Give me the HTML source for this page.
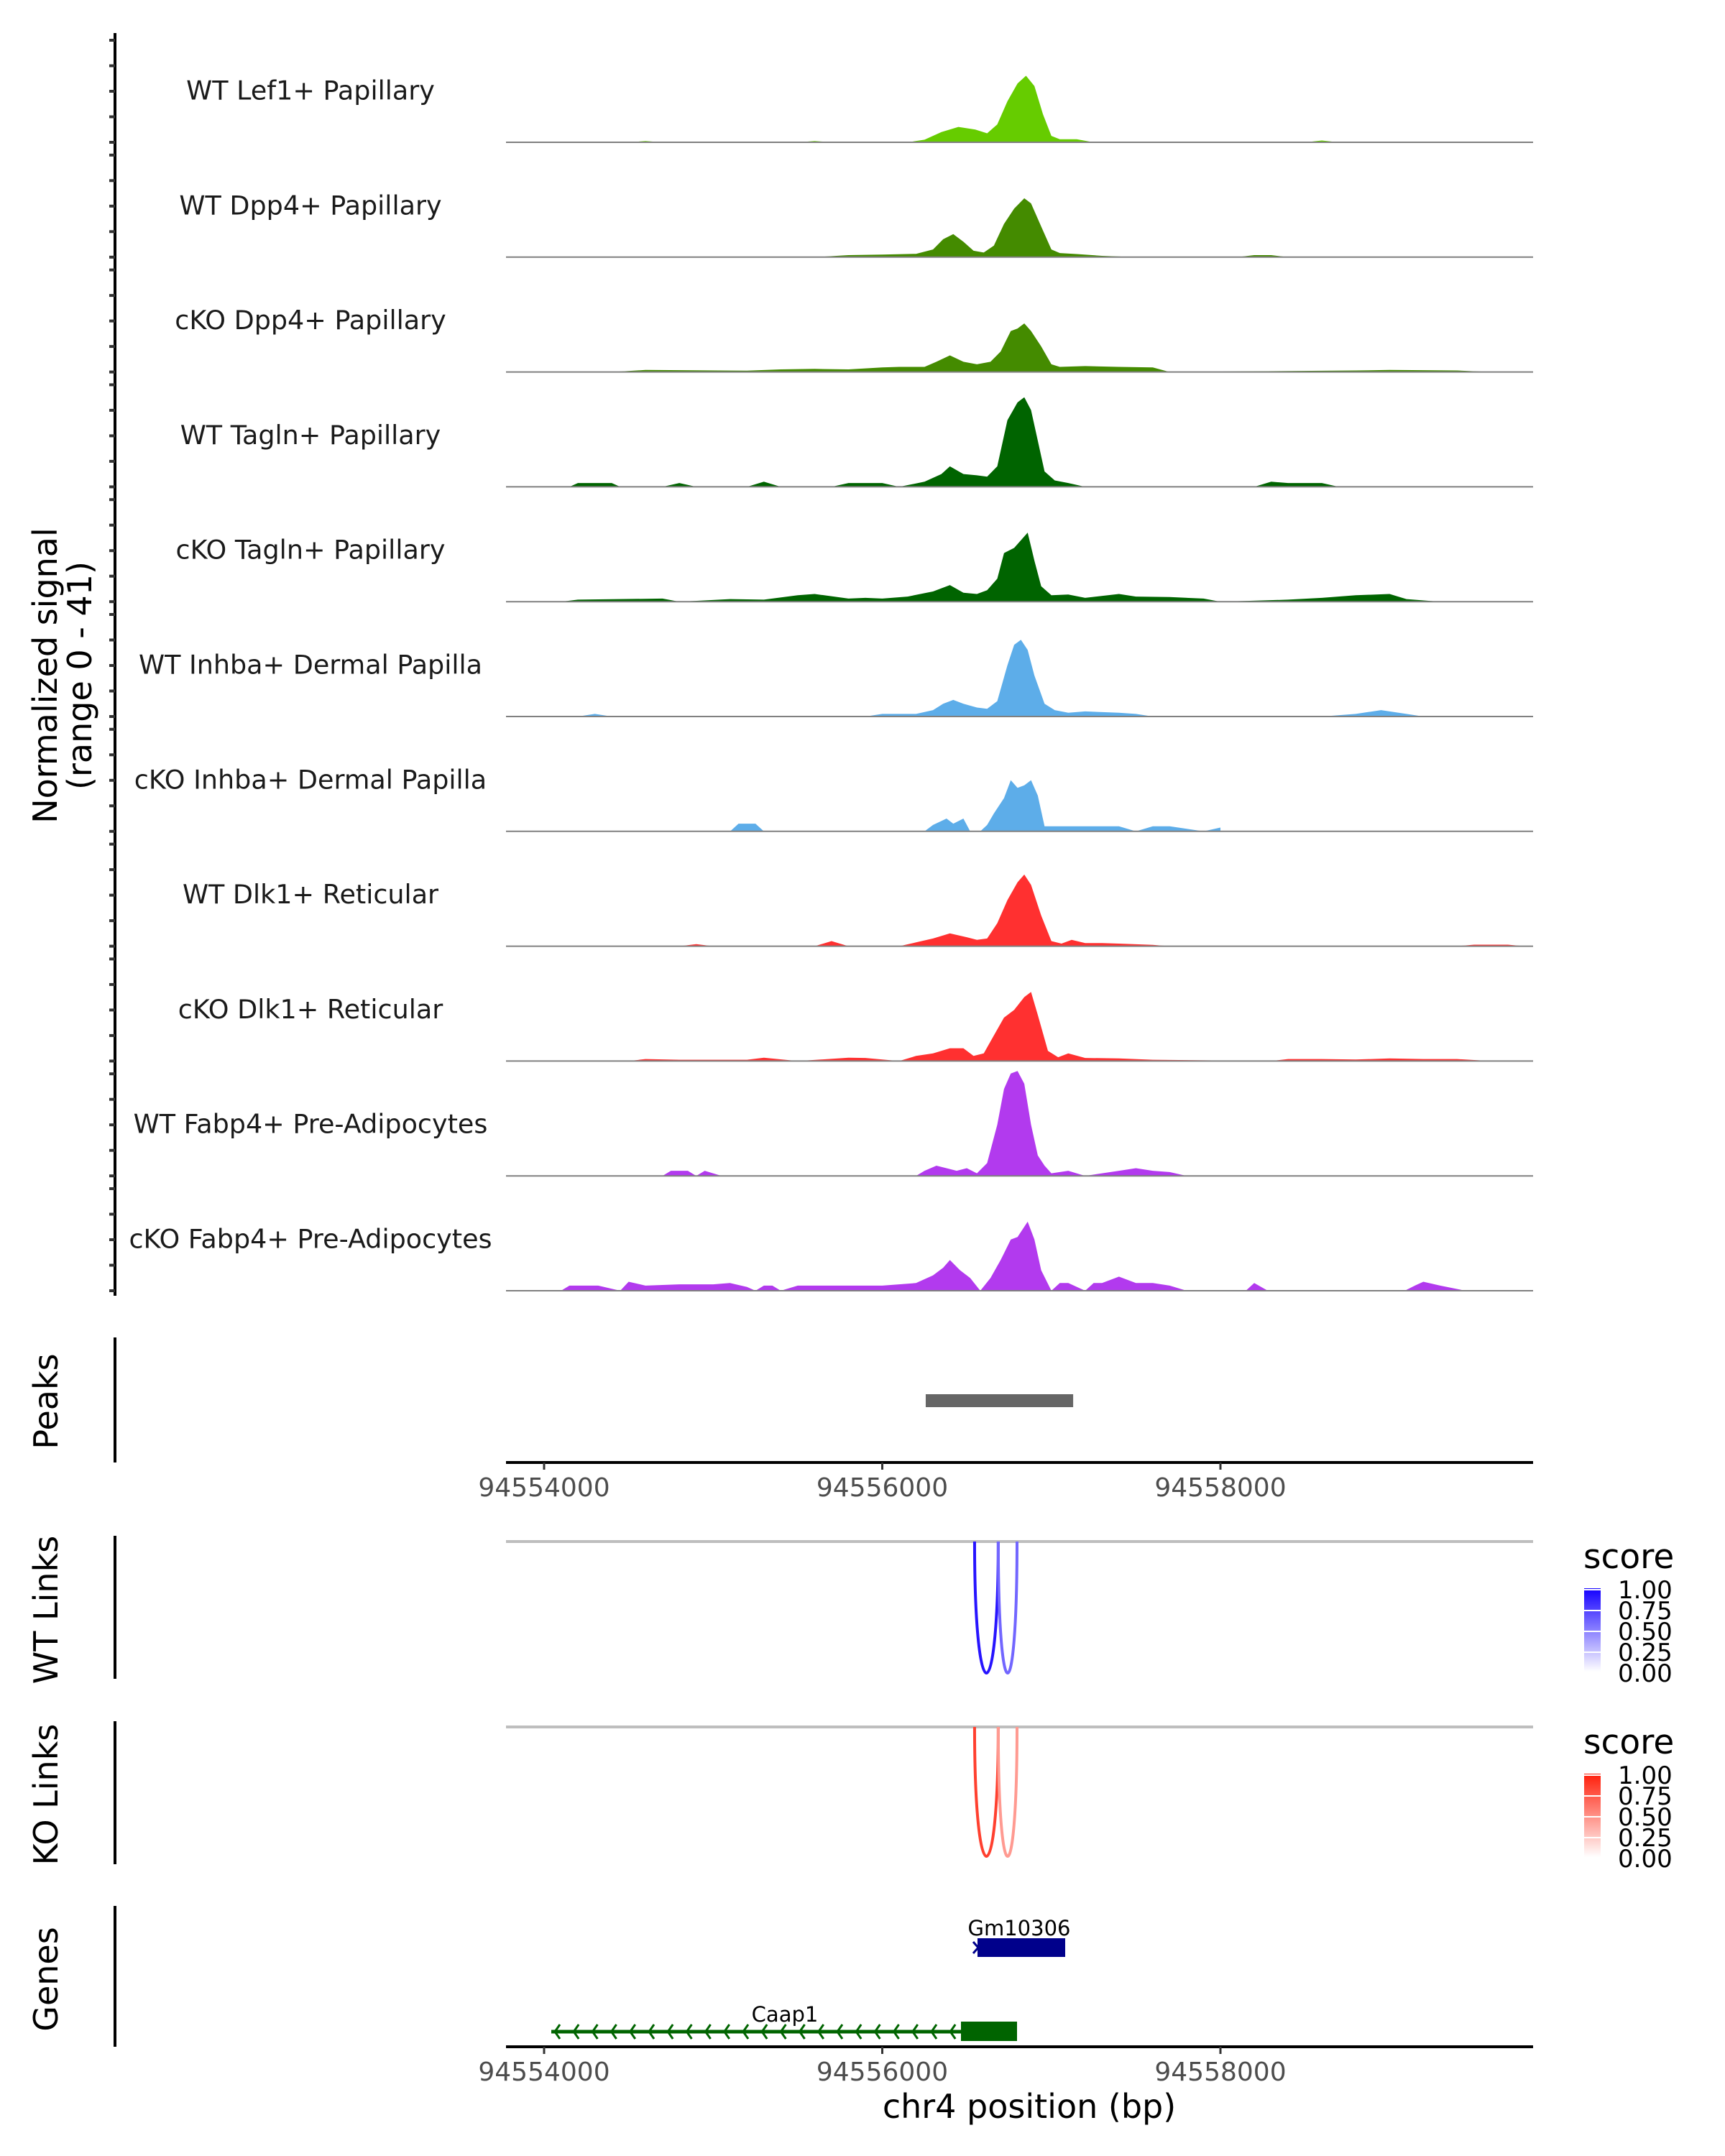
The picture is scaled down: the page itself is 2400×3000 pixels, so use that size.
<!DOCTYPE html>
<html><head><meta charset="utf-8">
<style>
html,body{margin:0;padding:0;background:#fff;}
svg{display:block;font-family:"DejaVu Sans","Liberation Sans",sans-serif;}
</style></head>
<body>
<svg id="chart" width="2400" height="3000" viewBox="0 0 2400 3000" xmlns="http://www.w3.org/2000/svg">
<g id="tracks"></g>
<g id="axes"></g>
</svg>
<script>
// ---- data (kb offset from 94554000) ----
const trackNames = ["WT Lef1+ Papillary","WT Dpp4+ Papillary","cKO Dpp4+ Papillary","WT Tagln+ Papillary","cKO Tagln+ Papillary","WT Inhba+ Dermal Papilla","cKO Inhba+ Dermal Papilla","WT Dlk1+ Reticular","cKO Dlk1+ Reticular","WT Fabp4+ Pre-Adipocytes","cKO Fabp4+ Pre-Adipocytes"];
const trackColors = ["#66cc00","#448b00","#448b00","#006400","#006400","#5dade9","#5dade9","#ff3030","#ff3030","#b23aee","#b23aee"];

const pos0 = [0.5,0.6,0.7,1.5,1.6,1.7,2.15,2.25,2.35,2.45,2.55,2.62,2.68,2.74,2.8,2.85,2.9,2.95,3.0,3.05,3.15,3.25,4.5,4.6,4.7];
const val0 = [0,0.5,0,0,0.5,0,0,1,4,6,5,3.5,7,16,23,26,22,11,2.5,1.2,1.2,0,0,0.7,0];
const pos1 = [1.6,1.8,2.0,2.2,2.3,2.36,2.42,2.48,2.54,2.6,2.66,2.72,2.78,2.84,2.88,2.94,3.0,3.05,3.15,3.3,3.5,4.1,4.2,4.3,4.4];
const val1 = [0,0.8,1,1.3,3,7,9,6,2.5,1.8,4.5,13,19,23,21,12,3,1.6,1.2,0.5,0,0,0.8,0.8,0];
const pos2 = [0.4,0.6,1.2,1.4,1.6,1.8,2.0,2.1,2.25,2.32,2.4,2.48,2.56,2.64,2.7,2.76,2.8,2.84,2.88,2.94,3.0,3.05,3.2,3.4,3.6,3.7,4.8,5.0,5.4,5.6];
const val2 = [0,0.8,0.5,1,1.2,1,1.8,2,2,4,6.5,4,3,4,8,16,17,19,16,10,3,2,2.3,2,1.8,0,0.6,0.8,0.6,0];
const pos3 = [0.15,0.2,0.3,0.4,0.45,0.7,0.8,0.9,1.2,1.3,1.4,1.7,1.8,2.0,2.1,2.25,2.35,2.4,2.48,2.56,2.62,2.68,2.74,2.8,2.84,2.88,2.92,2.96,3.02,3.1,3.2,4.2,4.3,4.4,4.6,4.7];
const val3 = [0,1.5,1.5,1.5,0,0,1.5,0,0,2,0,0,1.5,1.5,0,2,5,8,5,4.5,4,8,26,33,35,30,18,6,2.5,1.5,0,0,2,1.5,1.5,0];
const pos4 = [0.1,0.2,0.7,0.8,1.1,1.3,1.5,1.6,1.8,1.9,2.0,2.15,2.3,2.4,2.48,2.56,2.62,2.68,2.72,2.78,2.82,2.86,2.9,2.94,3.0,3.1,3.2,3.4,3.5,3.7,3.9,4.0,4.4,4.6,4.8,5.0,5.1,5.3];
const val4 = [0,0.8,1.2,0,1,0.8,2.5,3,1.2,1.5,1.2,2,4,6.5,3.5,3,4.5,9,19,21,24,27,16,6,2.5,2.8,1.5,3,2,1.8,1.2,0,0.8,1.5,2.5,3,1,0];
const pos5 = [0.2,0.3,0.4,1.9,2.0,2.1,2.2,2.3,2.36,2.42,2.48,2.56,2.62,2.68,2.74,2.78,2.82,2.86,2.9,2.96,3.02,3.1,3.2,3.4,3.5,3.6,4.6,4.8,4.95,5.1,5.2];
const val5 = [0,1,0,0,1,1,1,2.5,5,6.5,5,3.5,3,6,20,28,30,26,16,5,2.5,1.5,2,1.5,1,0,0,1,2.5,1,0];
const pos6 = [1.1,1.15,1.25,1.3,2.25,2.3,2.38,2.42,2.48,2.52,2.58,2.62,2.66,2.72,2.76,2.8,2.84,2.88,2.92,2.96,3.0,3.4,3.5,3.6,3.7,3.9,4.0];
const val6 = [0,3,3,0,0,2.5,5,3,5,0,0,2.5,7,13,20,17,18,20,14,2,2,2,0,2,2,0,1.5];
const pos7 = [0.8,0.9,1.0,1.6,1.7,1.8,2.1,2.2,2.3,2.4,2.5,2.56,2.62,2.68,2.74,2.8,2.84,2.88,2.94,3.0,3.06,3.12,3.2,3.3,3.4,3.6,3.7,5.4,5.5,5.7,5.8,6.0];
const val7 = [0,0.8,0,0,2,0,0,1.5,3,5,3.5,2.5,3,9,18,25,28,24,12,2,1,2.5,1.2,1.2,1,0.5,0,0,0.6,0.6,0,0];
const pos8 = [0.5,0.6,0.8,1.2,1.3,1.5,1.8,1.9,2.1,2.2,2.3,2.4,2.48,2.54,2.6,2.66,2.72,2.78,2.84,2.88,2.92,2.98,3.04,3.1,3.2,3.4,3.6,4.3,4.4,4.6,4.8,5.0,5.2,5.4,5.6];
const val8 = [0,0.8,0.5,0.5,1.3,0,1.3,1.2,0,2,3,5,5,2,3,10,17,20,25,27,18,4,1.5,3,1.2,1,0.5,0,0.8,0.8,0.6,1,0.8,0.8,0];
const pos9 = [0.7,0.75,0.85,0.9,0.95,1.05,2.2,2.25,2.32,2.38,2.44,2.5,2.56,2.62,2.68,2.72,2.76,2.8,2.84,2.88,2.92,2.96,3.0,3.1,3.2,3.4,3.5,3.6,3.7,3.8];
const val9 = [0,2,2,0,2,0,0,2,4,3,2,3,1,5,20,34,40,41,36,20,8,4,1,2,0,2,3,2,1.5,0];
const pos10 = [0.1,0.15,0.32,0.45,0.5,0.6,0.8,1.0,1.1,1.2,1.25,1.3,1.35,1.4,1.5,2.0,2.2,2.3,2.36,2.4,2.46,2.52,2.58,2.64,2.7,2.76,2.8,2.86,2.9,2.94,3.0,3.05,3.1,3.2,3.25,3.3,3.4,3.5,3.6,3.7,3.8,4.15,4.2,4.28,5.09,5.15,5.2,5.3,5.45];
const val10 = [0,2,2,0,3.5,2,2.5,2.5,3,1.5,0,2,2,0,2,2,3,6,9,12,8,5,0,5,12,20,21,27,20,8,0,3,3,0,3,3,5.5,3,3,2,0,0,3,0,0,2,3.5,2,0];

const trackPos = [pos0,pos1,pos2,pos3,pos4,pos5,pos6,pos7,pos8,pos9,pos10];
const trackVal = [val0,val1,val2,val3,val4,val5,val6,val7,val8,val9,val10];
const axisTicksBp = [94554000,94556000,94558000];
const peakStarts = [94556257];
const peakEnds = [94557129];
const wtLinkStarts = [94556546,94556686];
const wtLinkEnds = [94556686,94556797];
const wtLinkScores = [0.92,0.6];
const koLinkStarts = [94556546,94556686];
const koLinkEnds = [94556686,94556797];
const koLinkScores = [0.85,0.45];
const legendTicks = ["1.00","0.75","0.50","0.25","0.00"];

// ---- scales ----
const X0 = 757, PX_PER_BP = 470.5/2000, BP0 = 94554000;
const xBp = bp => X0 + (bp - BP0) * PX_PER_BP;
const xKb = kb => X0 + kb * 1000 * PX_PER_BP;
const PLOT_L = 704, PLOT_R = 2133;
const BASE0 = 198, SPACING = 159.8, PX_PER_UNIT = 3.56;
const yVal = (i, v) => BASE0 + SPACING * i - v * PX_PER_UNIT;

const NS = "http://www.w3.org/2000/svg";
function mk(tag, attrs, parent, text) {
  const e = document.createElementNS(NS, tag);
  for (const k in attrs) e.setAttribute(k, attrs[k]);
  if (text !== undefined) e.textContent = text;
  parent.appendChild(e);
  return e;
}
const tracks = document.getElementById("tracks");
const axes = document.getElementById("axes");

// ---- coverage tracks ----
trackNames.forEach((name, i) => {
  const g = mk("g", {}, tracks);
  
  
  const base = yVal(i, 0);
  const P = trackPos[i], V = trackVal[i];
  let d = "M" + xKb(P[0]).toFixed(1) + "," + base;
  for (let k = 0; k < P.length; k++) d += " L" + xKb(P[k]).toFixed(1) + "," + yVal(i, V[k]).toFixed(1);
  d += " L" + xKb(P[P.length - 1]).toFixed(1) + "," + base + " Z";
  const area = mk("path", {d: d, fill: trackColors[i], stroke: "none"}, g);
  
  
  const bl = mk("line", {x1: PLOT_L, x2: PLOT_R, y1: base, y2: base, stroke: "#808080", "stroke-width": 2}, g);
  
  
  const lab = mk("text", {x: 432, y: base - 70, "text-anchor": "middle", "dominant-baseline": "middle", "font-size": 36.5, fill: "#1a1a1a"}, g, name);
  
  
});

// ---- left signal axis ----
const yaxis = mk("line", {x1: 160, x2: 160, y1: 46, y2: 1803, stroke: "#000", "stroke-width": 4}, axes);


for (let i = 0; i < 11; i++) for (let k = 0; k < 5; k++) {
  const y = 56 + SPACING * i + 35.5 * k;
  if (y > 1803) continue;
  const t = mk("line", {x1: 152, x2: 160, y1: y, y2: y, stroke: "#333", "stroke-width": 4}, axes);
  
  
}
const yt = mk("text", {transform: "translate(79,940) rotate(-90)", "text-anchor": "middle", "font-size": 46, fill: "#000"}, axes);


mk("tspan", {x: 0, y: 0}, yt, "Normalized signal");
mk("tspan", {x: 0, y: 48}, yt, "(range 0 - 41)");

function sideLabel(txt, y, name, y1, y2) {
  const t = mk("text", {transform: "translate(80," + y + ") rotate(-90)", "text-anchor": "middle", "font-size": 46, fill: "#000"}, axes, txt);
  
  
  const l = mk("line", {x1: 160, x2: 160, y1: y1, y2: y2, stroke: "#000", "stroke-width": 4}, axes);
  
  
}
sideLabel("Peaks", 1950, "peaks", 1861, 2035);
sideLabel("WT Links", 2240, "wt-links", 2137, 2336);
sideLabel("KO Links", 2497, "ko-links", 2395, 2594);
sideLabel("Genes", 2754, "genes", 2652, 2848);

// ---- peaks ----
peakStarts.forEach((s, i) => {
  const r = mk("rect", {x: xBp(s), y: 1940, width: xBp(peakEnds[i]) - xBp(s), height: 18, fill: "#666"}, axes);
  
  
});

function xAxis(y, name) {
  const l = mk("line", {x1: PLOT_L, x2: PLOT_R, y1: y, y2: y, stroke: "#000", "stroke-width": 4}, axes);
  
  
  axisTicksBp.forEach(bp => {
    const t = mk("line", {x1: xBp(bp), x2: xBp(bp), y1: y, y2: y + 10, stroke: "#333", "stroke-width": 3}, axes);
    
    
    const tl = mk("text", {x: xBp(bp), y: y + 47, "text-anchor": "middle", "font-size": 36, fill: "#4d4d4d"}, axes, String(bp));
    
    
  });
}
xAxis(2035, "peaks-x-axis");
xAxis(2848, "genes-x-axis");
const xt = mk("text", {x: 1432, y: 2947, "text-anchor": "middle", "font-size": 46, fill: "#000"}, axes, "chr4 position (bp)");



// ---- links ----
function mix(score, rgb) {
  const c = rgb.map(v => Math.round(255 + (v - 255) * score));
  return "rgb(" + c.join(",") + ")";
}
function links(starts, ends, scores, yTop, depth, rgb, name) {
  const gl = mk("line", {x1: PLOT_L, x2: PLOT_R, y1: yTop, y2: yTop, stroke: "#bebebe", "stroke-width": 4}, axes);
  
  
  starts.forEach((s, i) => {
    const a = xBp(s), b = xBp(ends[i]);
    const cy = yTop + depth / 0.75;
    const p = mk("path", {d: "M" + a + "," + yTop + " C" + a + "," + cy + " " + b + "," + cy + " " + b + "," + yTop, fill: "none", stroke: mix(scores[i], rgb), "stroke-width": 4}, axes);
    
    
  });
}
links(wtLinkStarts, wtLinkEnds, wtLinkScores, 2145, 183, [20, 0, 255], "wt-link");
links(koLinkStarts, koLinkEnds, koLinkScores, 2403, 180, [255, 30, 10], "ko-link");

function legend(yTitle, yBar, color, name, id) {
  const t = mk("text", {x: 2203, y: yTitle + 15, "font-size": 47, fill: "#000"}, axes, "score");
  
  
  const defs = mk("defs", {}, axes);
  const lg = mk("linearGradient", {id: id, x1: 0, y1: 0, x2: 0, y2: 1}, defs);
  mk("stop", {offset: "0", "stop-color": color}, lg);
  mk("stop", {offset: "1", "stop-color": "#ffffff"}, lg);
  const r = mk("rect", {x: 2204, y: yBar, width: 23, height: 116, fill: "url(#" + id + ")"}, axes);
  
  
  legendTicks.forEach((lab, k) => {
    const y = yBar + 2 + k * 29;
    const tk = mk("line", {x1: 2204, x2: 2227, y1: y, y2: y, stroke: "#fff", "stroke-width": 2}, axes);
    
    
    const tl = mk("text", {x: 2251, y: y + 12, "font-size": 34, fill: "#000"}, axes, lab);
    
    
  });
}
legend(2167, 2210, "#1400ff", "wt-links", "gwt");
legend(2425, 2468, "#ff1e0a", "ko-links", "gko");

// ---- genes ----
const gm = mk("rect", {x: 1360, y: 2697, width: 122, height: 26, fill: "#00008b"}, axes);


const gmArrow = mk("path", {d: "M1354,2702 L1361,2710 L1354,2718", fill: "none", stroke: "#00008b", "stroke-width": 3}, axes);


const gml = mk("text", {x: 1418, y: 2693, "text-anchor": "middle", "font-size": 29, fill: "#000"}, axes, "Gm10306");



const cl = mk("line", {x1: 767, x2: 1340, y1: 2827, y2: 2827, stroke: "#006400", "stroke-width": 5}, axes);


for (let x = 772; x < 1330; x += 26.2) {
  const a = mk("path", {d: "M" + (x + 7) + ",2817 L" + x + ",2827 L" + (x + 7) + ",2837", fill: "none", stroke: "#006400", "stroke-width": 3}, axes);
  
  
}
const cb = mk("rect", {x: 1337, y: 2813, width: 78, height: 27, fill: "#006400"}, axes);


const cal = mk("text", {x: 1092, y: 2813, "text-anchor": "middle", "font-size": 29, fill: "#000"}, axes, "Caap1");


</script>
</body></html>
